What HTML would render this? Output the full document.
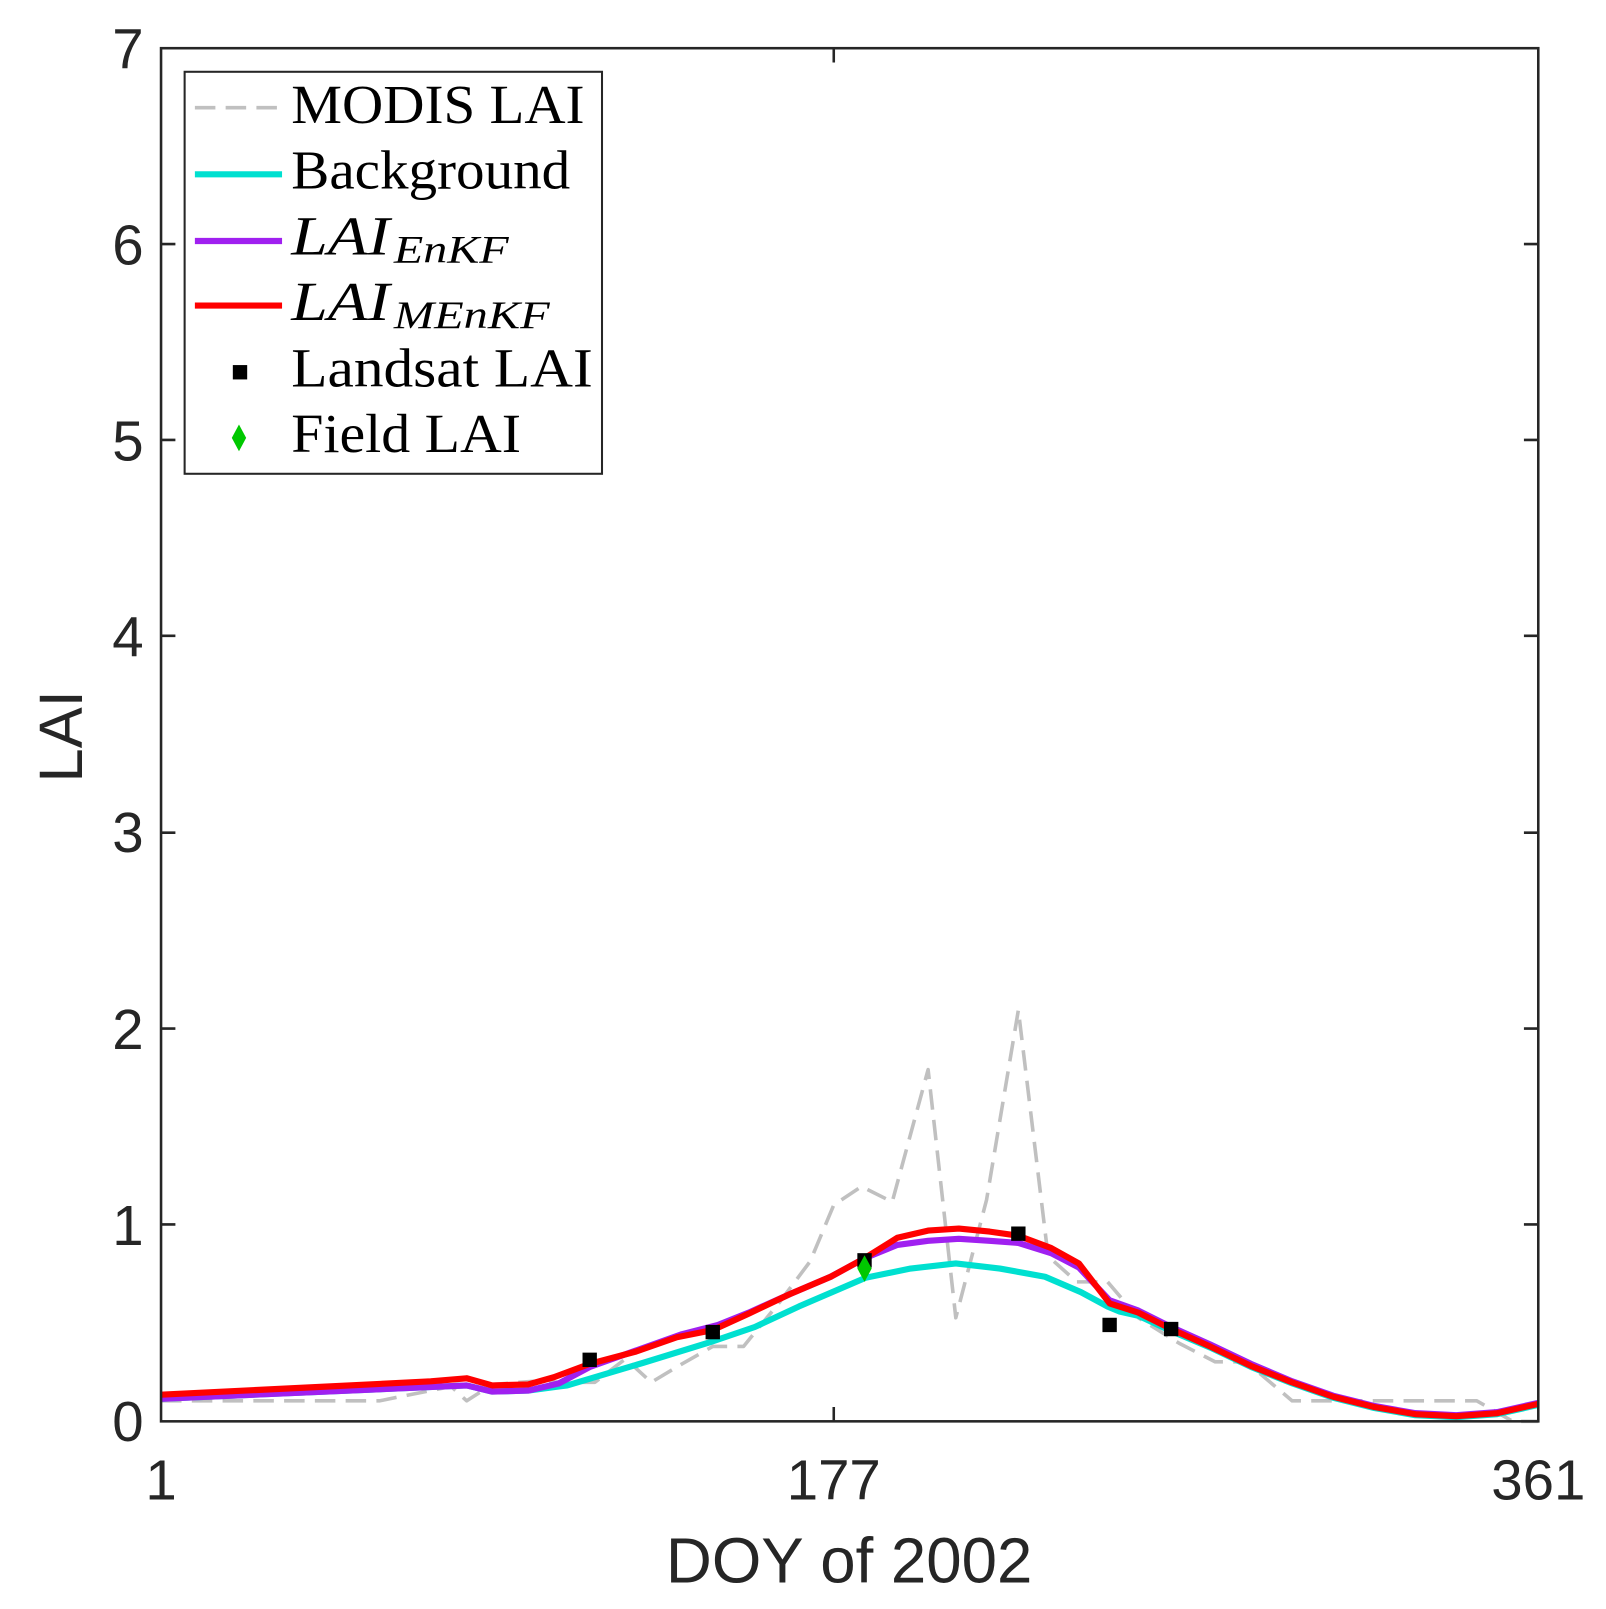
<!DOCTYPE html>
<html><head><meta charset="utf-8"><style>html,body{margin:0;padding:0;background:#fff}svg{display:block}</style></head>
<body>
<svg width="1606" height="1609" viewBox="0 0 1566 1569" xmlns="http://www.w3.org/2000/svg">
<rect width="1566" height="1569" fill="#fff"/>
<g fill="none" stroke-linejoin="round">
<polyline stroke="#c0c0c0" stroke-width="3.5" stroke-dasharray="20,10" points="157,1366 370,1366 440,1352 455,1366 480,1350 520,1347 560,1348 580,1348 610,1325 635,1348 665,1330 695,1313 725,1313 760,1270 790,1230 813,1175 840,1157 870,1172 905,1043 932,1285 962,1170 993,985 1022,1225 1050,1250 1080,1250 1110,1285 1150,1310 1185,1328 1215,1328 1260,1366 1440,1366 1475,1386 1500,1386"/>
<polyline stroke="#00e0d0" stroke-width="6" points="157,1364 455,1351 480,1357 515,1356 545,1352 553,1351 627,1329 692,1309 736,1294 779,1274 844,1246 888,1237 932,1232 975,1237 1019,1245 1054,1260 1080,1274 1092,1279 1110,1283 1142,1298 1180,1314 1220,1333 1260,1349 1300,1363 1340,1373 1380,1380 1420,1382 1460,1379 1500,1370"/>
<polyline stroke="#a020f0" stroke-width="6" points="157,1364 455,1351 480,1357 515,1356 545,1349 575,1333 620,1317 665,1301 700,1292 730,1280 770,1262 810,1245 843,1227 875,1214 905,1210 935,1208 965,1210 993,1212 1025,1222 1052,1236 1082,1268 1110,1278 1142,1294 1180,1311 1220,1330 1260,1347 1300,1361 1340,1371 1380,1378 1420,1380 1460,1377 1500,1368"/>
<polyline stroke="#ff0000" stroke-width="6" points="157,1360 300,1353 420,1347 455,1344 480,1351 515,1350 540,1343 575,1330 620,1318 660,1304 695,1297 730,1281 770,1262 810,1245 843,1227 875,1207 905,1200 935,1198 965,1201 993,1205 1025,1217 1052,1232 1082,1271 1110,1280 1142,1296 1180,1313 1220,1332 1260,1348 1300,1362 1340,1372 1380,1379 1420,1381 1460,1378 1500,1369"/>
</g>
<g fill="#000">
<rect x="568" y="1319" width="14" height="14"/><rect x="688" y="1292" width="14" height="14"/><rect x="836" y="1222" width="14" height="14"/><rect x="986" y="1196" width="14" height="14"/><rect x="1075" y="1285" width="14" height="14"/><rect x="1135" y="1289" width="14" height="14"/>
</g>
<polygon points="843,1224 850,1237 843,1250 836,1237" fill="#00c800"/>
<g stroke="#262626" stroke-width="2.5" fill="none">
<rect x="157" y="47" width="1343" height="1339"/>
<path d="M157,1194h14M157,1003h14M157,812h14M157,620h14M157,429h14M157,238h14M1500,1194h-14M1500,1003h-14M1500,812h-14M1500,620h-14M1500,429h-14M1500,238h-14M813,1386v-14M813,47v14"/>
</g>
<g font-family="Liberation Sans, Arial, sans-serif" font-size="55" fill="#262626" text-anchor="end">
<text x="140" y="1405">0</text><text x="140" y="1214">1</text><text x="140" y="1023">2</text><text x="140" y="831">3</text><text x="140" y="640">4</text><text x="140" y="449">5</text><text x="140" y="258">6</text><text x="140" y="67">7</text>
</g>
<g font-family="Liberation Sans, Arial, sans-serif" font-size="55" fill="#262626" text-anchor="middle">
<text x="157" y="1462">1</text><text x="813" y="1462">177</text><text x="1500" y="1462">361</text>
<text x="828" y="1543" font-size="62">DOY of 2002</text>
<text transform="translate(80,718) rotate(-90)" font-size="60">LAI</text>
</g>
<rect x="180" y="70" width="407" height="392" fill="#fff" stroke="#262626" stroke-width="2"/>
<line x1="190" y1="105" x2="275" y2="105" stroke="#c0c0c0" stroke-width="3.5" stroke-dasharray="20,10"/>
<line x1="190" y1="170" x2="275" y2="170" stroke="#00e0d0" stroke-width="6"/>
<line x1="190" y1="235" x2="275" y2="235" stroke="#a020f0" stroke-width="6"/>
<line x1="190" y1="298" x2="275" y2="298" stroke="#ff0000" stroke-width="6"/>
<rect x="227" y="356" width="14" height="14" fill="#000"/>
<polygon points="233,414 240,427 233,440 226,427" fill="#00c800"/>
<g font-family="Liberation Serif, serif" font-size="54" fill="#000">
<text x="284" y="120" textLength="286" lengthAdjust="spacingAndGlyphs">MODIS LAI</text>
<text x="284" y="184" textLength="272" lengthAdjust="spacingAndGlyphs">Background</text>
<text x="284" y="248" font-style="italic" textLength="96" lengthAdjust="spacingAndGlyphs">LAI</text>
<text x="384" y="256" font-style="italic" font-size="38" textLength="112" lengthAdjust="spacingAndGlyphs">EnKF</text>
<text x="284" y="312" font-style="italic" textLength="96" lengthAdjust="spacingAndGlyphs">LAI</text>
<text x="384" y="320" font-style="italic" font-size="38" textLength="152" lengthAdjust="spacingAndGlyphs">MEnKF</text>
<text x="284" y="377" textLength="294" lengthAdjust="spacingAndGlyphs">Landsat LAI</text>
<text x="284" y="441" textLength="224" lengthAdjust="spacingAndGlyphs">Field LAI</text>
</g>
</svg>
</body></html>
